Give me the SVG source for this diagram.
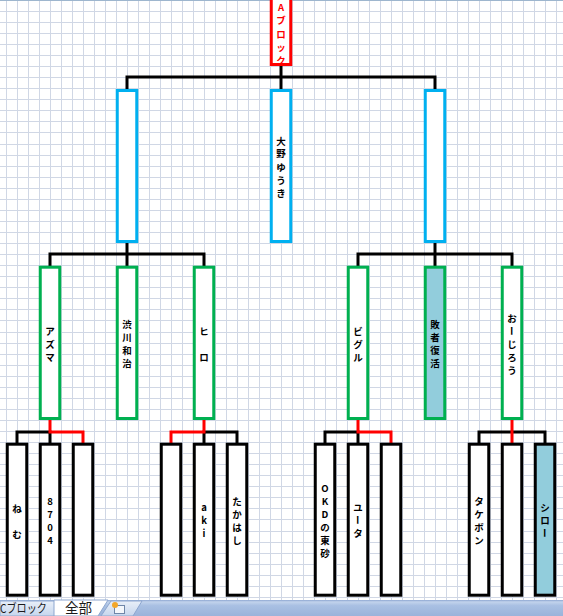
<svg xmlns="http://www.w3.org/2000/svg" width="563" height="616" viewBox="0 0 563 616">
<defs>
<style>
.grid{stroke:#D0D7E5;stroke-width:1;fill:none}
.k{stroke:#000;stroke-width:3;fill:none;stroke-linejoin:miter}
.r{stroke:#FF0000;stroke-width:3;fill:none;stroke-linejoin:miter}
.bx{fill:#fff;stroke-width:3}
.blk{stroke:#000}
.grn{stroke:#00B050}
.blu{stroke:#00B0F0}
.red{stroke:#FF0000}
.aq{fill:#92CDDC}
.t{font-family:"Noto Sans CJK JP","Noto Sans",sans-serif;font-size:9.5px;font-weight:bold;text-anchor:middle;dominant-baseline:central;fill:#000}
.tr{fill:#FF0000}
.tab{font-family:"Noto Sans CJK JP","Noto Sans",sans-serif;fill:#1b1b1b}
</style>
<linearGradient id="bar" x1="0" y1="0" x2="0" y2="1">
<stop offset="0" stop-color="#8EA7D2"/>
<stop offset="0.12" stop-color="#C2D3EC"/>
<stop offset="0.35" stop-color="#A9C0E3"/>
<stop offset="1" stop-color="#9AB3DA"/>
</linearGradient>
<linearGradient id="tabg" x1="0" y1="0" x2="0" y2="1">
<stop offset="0" stop-color="#E9EFF8"/>
<stop offset="1" stop-color="#C6D6ED"/>
</linearGradient>
</defs>
<rect width="563" height="616" fill="#fff"/>
<g id="grid">
<path class="grid" d="M6.5,0V600M17.5,0V600M28.5,0V600M39.5,0V600M50.5,0V600M61.5,0V600M72.5,0V600M83.5,0V600M94.5,0V600M105.5,0V600M116.5,0V600M127.5,0V600M138.5,0V600M149.5,0V600M160.5,0V600M171.5,0V600M182.5,0V600M193.5,0V600M204.5,0V600M215.5,0V600M226.5,0V600M237.5,0V600M248.5,0V600M259.5,0V600M270.5,0V600M281.5,0V600M292.5,0V600M303.5,0V600M314.5,0V600M325.5,0V600M336.5,0V600M347.5,0V600M358.5,0V600M369.5,0V600M380.5,0V600M391.5,0V600M402.5,0V600M413.5,0V600M424.5,0V600M435.5,0V600M446.5,0V600M457.5,0V600M468.5,0V600M479.5,0V600M490.5,0V600M501.5,0V600M512.5,0V600M523.5,0V600M534.5,0V600M545.5,0V600M556.5,0V600"/>
<path class="grid" d="M0,11.5H563M0,22.5H563M0,33.5H563M0,44.5H563M0,55.5H563M0,66.5H563M0,77.5H563M0,88.5H563M0,99.5H563M0,110.5H563M0,121.5H563M0,132.5H563M0,144.5H563M0,155.5H563M0,166.5H563M0,177.5H563M0,188.5H563M0,199.5H563M0,210.5H563M0,221.5H563M0,232.5H563M0,243.5H563M0,254.5H563M0,265.5H563M0,276.5H563M0,287.5H563M0,298.5H563M0,309.5H563M0,320.5H563M0,332.5H563M0,343.5H563M0,354.5H563M0,365.5H563M0,376.5H563M0,387.5H563M0,398.5H563M0,409.5H563M0,420.5H563M0,431.5H563M0,442.5H563M0,453.5H563M0,464.5H563M0,475.5H563M0,486.5H563M0,497.5H563M0,508.5H563M0,519.5H563M0,531.5H563M0,542.5H563M0,553.5H563M0,564.5H563M0,575.5H563M0,586.5H563M0,597.5H563"/>
<path d="M0,0.5H563" stroke="#9EB6CE" stroke-width="1"/>
</g>
<g id="connectors">
<path class="k" d="M281,64V90"/>
<path class="k" d="M127,90V77H435V90"/>
<path class="k" d="M127,242V267"/>
<path class="k" d="M50,267V254H204V267"/>
<path class="k" d="M435,242V267"/>
<path class="k" d="M358,267V254H512V267"/>
<path class="k" d="M17,444V432H50V444"/>
<path class="k" d="M237,444V432H204V444"/>
<path class="k" d="M325,444V432H358V444"/>
<path class="k" d="M479,444V432H545V444"/>
<path class="r" d="M50,419V432H83V444"/>
<path class="r" d="M204,419V432H171V444"/>
<path class="r" d="M358,419V432H391V444"/>
<path class="r" d="M512,419V444"/>
</g>
<g id="nA">
<rect class="bx red" x="271.25" y="-2" width="19.5" height="66.5"/>
<text class="t tr"><tspan x="281" y="7">A</tspan><tspan x="281" y="20">ブ</tspan><tspan x="281" y="33.5">ロ</tspan><tspan x="281" y="46.5">ッ</tspan><tspan x="281" y="60">ク</tspan></text>
</g>
<g id="nB1"><rect class="bx blu" x="117.25" y="90.5" width="19.5" height="151"/></g>
<g id="nB2"><rect class="bx blu" x="271.25" y="90.5" width="19.5" height="151"/>
<text class="t"><tspan x="281" y="140.5">大</tspan><tspan x="281" y="153">野</tspan><tspan x="281" y="166.5">ゆ</tspan><tspan x="281" y="179.5">う</tspan><tspan x="281" y="192.5">き</tspan></text>
</g>
<g id="nB3"><rect class="bx blu" x="425.25" y="90.5" width="19.5" height="151"/></g>
<g id="nG1"><rect class="bx grn" x="40.25" y="267.2" width="19.5" height="151.3"/>
<text class="t"><tspan x="50" y="331">ア</tspan><tspan x="50" y="344">ズ</tspan><tspan x="50" y="357">マ</tspan></text>
</g>
<g id="nG2"><rect class="bx grn" x="117.25" y="267.2" width="19.5" height="151.3"/>
<text class="t"><tspan x="127" y="323.5">渋</tspan><tspan x="127" y="337">川</tspan><tspan x="127" y="350">和</tspan><tspan x="127" y="363">治</tspan></text>
</g>
<g id="nG3"><rect class="bx grn" x="194.25" y="267.2" width="19.5" height="151.3"/>
<text class="t"><tspan x="204" y="331">ヒ</tspan><tspan x="204" y="357">ロ</tspan></text>
</g>
<g id="nG4"><rect class="bx grn" x="348.25" y="267.2" width="19.5" height="151.3"/>
<text class="t"><tspan x="358" y="331">ビ</tspan><tspan x="358" y="344">グ</tspan><tspan x="358" y="357">ル</tspan></text>
</g>
<g id="nG5"><rect class="bx grn aq" x="425.25" y="267.2" width="19.5" height="151.3"/>
<text class="t"><tspan x="435" y="323.5">敗</tspan><tspan x="435" y="337">者</tspan><tspan x="435" y="350">復</tspan><tspan x="435" y="363">活</tspan></text>
</g>
<g id="nG6"><rect class="bx grn" x="502.25" y="267.2" width="19.5" height="151.3"/>
<text class="t" x="512" y="318">お</text>
<text class="t" transform="translate(512,331) rotate(90)" x="0" y="0">ー</text>
<text class="t"><tspan x="512" y="344">じ</tspan><tspan x="512" y="357">ろ</tspan><tspan x="512" y="370">う</tspan></text>
</g>
<g id="n1"><rect class="bx blk" x="7.25" y="444.2" width="19.5" height="151"/>
<text class="t"><tspan x="17" y="508">ね</tspan><tspan x="17" y="534">む</tspan></text>
</g>
<g id="n2"><rect class="bx blk" x="40.25" y="444.2" width="19.5" height="151"/>
<text class="t"><tspan x="50" y="501">8</tspan><tspan x="50" y="514">7</tspan><tspan x="50" y="527">0</tspan><tspan x="50" y="540">4</tspan></text>
</g>
<g id="n3"><rect class="bx blk" x="73.25" y="444.2" width="19.5" height="151"/></g>
<g id="n4"><rect class="bx blk" x="161.25" y="444.2" width="19.5" height="151"/></g>
<g id="n5"><rect class="bx blk" x="194.25" y="444.2" width="19.5" height="151"/>
<text class="t"><tspan x="204" y="507">a</tspan><tspan x="204" y="520">k</tspan><tspan x="204" y="533">i</tspan></text>
</g>
<g id="n6"><rect class="bx blk" x="227.25" y="444.2" width="19.5" height="151"/>
<text class="t"><tspan x="237" y="501">た</tspan><tspan x="237" y="514">か</tspan><tspan x="237" y="527">は</tspan><tspan x="237" y="540">し</tspan></text>
</g>
<g id="n7"><rect class="bx blk" x="315.25" y="444.2" width="19.5" height="151"/>
<text class="t"><tspan x="325" y="488">O</tspan><tspan x="325" y="501">K</tspan><tspan x="325" y="514">D</tspan><tspan x="325" y="527">の</tspan><tspan x="325" y="540">東</tspan><tspan x="325" y="553">砂</tspan></text>
</g>
<g id="n8"><rect class="bx blk" x="348.25" y="444.2" width="19.5" height="151"/>
<text class="t" x="358" y="507">ユ</text>
<text class="t" transform="translate(358,520) rotate(90)" x="0" y="0">ー</text>
<text class="t" x="358" y="533">タ</text>
</g>
<g id="n9"><rect class="bx blk" x="381.25" y="444.2" width="19.5" height="151"/></g>
<g id="n10"><rect class="bx blk" x="469.25" y="444.2" width="19.5" height="151"/>
<text class="t"><tspan x="479" y="501">タ</tspan><tspan x="479" y="514">ケ</tspan><tspan x="479" y="527">ボ</tspan><tspan x="479" y="540">ン</tspan></text>
</g>
<g id="n11"><rect class="bx blk" x="502.25" y="444.2" width="19.5" height="151"/></g>
<g id="n12"><rect class="bx blk aq" x="535.25" y="444.2" width="19.5" height="151"/>
<text class="t"><tspan x="545" y="507">シ</tspan><tspan x="545" y="520">ロ</tspan></text>
<text class="t" transform="translate(545,533) rotate(90)" x="0" y="0">ー</text>
</g>
<g id="tabbar">
<rect x="0" y="600" width="563" height="16" fill="url(#bar)"/>
<polygon points="0,601 55,601 55,616 0,616" fill="url(#tabg)" stroke="#8DA6CF" stroke-width="1"/>
<text class="tab" x="0" y="613" font-size="12" textLength="47" lengthAdjust="spacingAndGlyphs">Cブロック</text>
<polygon points="101,616 111,601 142,601 133,616" fill="url(#tabg)" stroke="#8DA6CF" stroke-width="1"/>
<polygon points="54,600 100,600 108,600 98,616 54,616" fill="#fff" stroke="#8DA6CF" stroke-width="1"/>
<text class="tab" x="65" y="613" font-size="13.5">全部</text>
<rect x="114.5" y="605.5" width="10" height="8" fill="#F4F7FB" stroke="#6F86A8" stroke-width="1"/>
<circle cx="115" cy="605" r="3" fill="#F2A72B"/>
</g>
</svg>
